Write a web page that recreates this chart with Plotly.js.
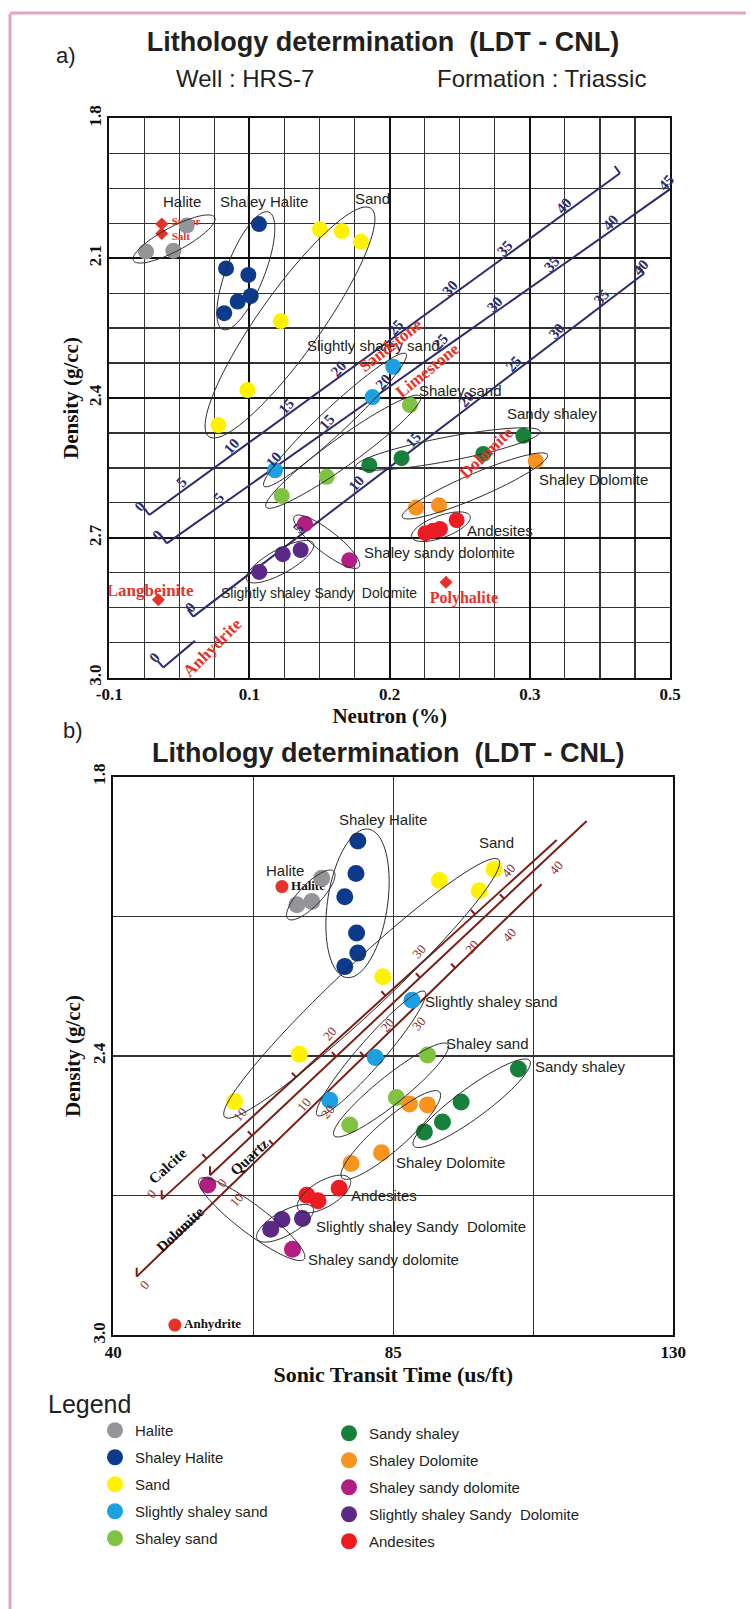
<!DOCTYPE html>
<html><head><meta charset="utf-8">
<script src="https://cdn.plot.ly/plotly-3.0.1.min.js"></script>
<style>html,body{margin:0;padding:0;background:#fff;}#chart{width:751px;height:1609px;}</style>
</head><body><div id="chart"></div>
<script>
// ================= DATA =================
const categories = ['Halite','Shaley Halite','Sand','Slightly shaley sand','Shaley sand',
  'Sandy shaley','Shaley Dolomite','Shaley sandy dolomite','Slightly shaley Sandy\u00a0 Dolomite','Andesites'];

// Panel a : Neutron (x) vs bulk density
const neutronA = [
  [0.0262,0.0457,0.0552],
  [0.1068,0.0833,0.0992,0.1009,0.0916,0.0820],
  [0.1503,0.1658,0.1796,0.1223,0.0985,0.0778],
  [0.2026,0.1878,0.1182],
  [0.2145,0.1551,0.1230],
  [0.1855,0.2085,0.2668,0.2954],
  [0.3042,0.2188,0.2352],
  [0.1396,0.1712],
  [0.1070,0.1237,0.1365],
  [0.2256,0.2309,0.2359,0.2478]
];
const densityA = [
  [2.086,2.084,2.030],
  [2.027,2.122,2.136,2.181,2.193,2.218],
  [2.038,2.042,2.065,2.235,2.383,2.458],
  [2.333,2.398,2.555],
  [2.415,2.569,2.610],
  [2.544,2.529,2.520,2.481],
  [2.535,2.635,2.630],
  [2.670,2.748],
  [2.773,2.735,2.726],
  [2.690,2.685,2.681,2.662]
];
// Panel b : Sonic transit time (x) vs bulk density
const sonicB = [
  [69.5,71.9,73.5],
  [79.3,79.0,77.2,79.1,79.3,77.2],
  [92.4,98.8,101.2,83.3,69.9,59.5],
  [88.0,82.1,74.8],
  [90.5,85.5,78.0],
  [105.1,95.9,92.9,90.0],
  [87.6,90.5,83.1,78.2],
  [55.2,68.8],
  [65.3,67.1,70.4],
  [71.1,72.9,76.3]
];
const densityB = [
  [2.075,2.068,2.018],
  [1.938,2.008,2.058,2.136,2.179,2.208],
  [2.023,2.045,1.999,2.230,2.396,2.498],
  [2.280,2.403,2.495],
  [2.398,2.489,2.548],
  [2.428,2.499,2.542,2.563],
  [2.503,2.505,2.608,2.631],
  [2.677,2.815],
  [2.772,2.751,2.749],
  [2.699,2.711,2.684]
];
// Reference minerals
const mineralsA = ['Sulfer','Salt','Langbeinite','Polyhalite'];
const mineralNeutronA = [0.0374,0.0374,0.0350,0.2402];
const mineralDensityA = [2.027,2.047,2.833,2.795];
const mineralsB = ['Halite','Anhydrite'];
const mineralSonicB = [67.1,49.9];
const mineralDensityB = [2.036,2.978];

// Lithology porosity lines, panel a (neutron, density at porosity phi)
const sandstonePhi = [0,5,10,15,20,25,30,35,40,45];
const sandstoneN = [0.0285,0.0546,0.0902,0.1295,0.1662,0.2067,0.2459,0.2851,0.3267,0.3643];
const sandstoneD = [2.651,2.594,2.516,2.431,2.350,2.262,2.176,2.091,2.000,1.918];
const limestonePhi = [0,5,10,15,20,25,30,35,40,45];
const limestoneN = [0.0410,0.0814,0.1199,0.1580,0.1983,0.2388,0.2780,0.3185,0.3601,0.4000];
const limestoneD = [2.712,2.626,2.545,2.464,2.379,2.293,2.211,2.125,2.037,1.952];
const dolomitePhiA = [0,5,10,15,20,25,30,35,40];
const dolomiteNA = [0.0599,0.1377,0.1794,0.2197,0.2578,0.2911,0.3220,0.3541,0.3815];
const dolomiteDA = [2.869,2.691,2.596,2.503,2.416,2.340,2.269,2.196,2.133];
const anhydritePhi = [0,2];
const anhydriteN = [0.0385,0.0611];
const anhydriteD = [2.978,2.921];

// Lithology porosity lines, panel b (sonic, density at porosity phi)
const calcitePhi = [0,10,20,30,40,44];
const calciteSonic = [47.78,62.16,76.55,90.93,105.31,111.26];
const calciteD = [2.708,2.533,2.358,2.183,2.008,1.936];
const quartzPhi = [0,10,20,30,40,45];
const quartzSonic = [55.54,69.04,82.54,96.04,109.54,116.08];
const quartzD = [2.656,2.486,2.316,2.147,1.977,1.895];
const quartzLabels = ['0','10','20','20','40'];
const dolomitePhiB = [0,10,20,30,40,44.5];
const dolomiteSonicB = [43.76,58.39,73.01,87.64,102.26,108.85];
const dolomiteDB = [2.874,2.685,2.495,2.306,2.116,2.031];

// Axis tick labels
const neutronTickVals = [0,0.1,0.2,0.3,0.4];
const neutronTickText = ['-0.1','0.1','0.2','0.3','0.5'];
const densityTicksA = [1.8,2.1,2.4,2.7,3.0];
const sonicTicks = [40,85,130];
const densityTicksB = [1.8,2.4,3.0];

// ================= STYLE / LAYOUT =================
const W = 751, H = 1609;
const colors = ['#939598','#0d3a8c','#fff200','#1ba1e2','#80c241','#17803a','#f7931e','#b21e83','#5b2a86','#ed1c24'];
const SANS = 'Liberation Sans, Arial, sans-serif';
const SERIF = 'Liberation Serif, Times New Roman, serif';
const TXT = '#231f20';
const NAVY = '#2d2a6e', BROWN = '#7b1f16', RED = '#e6332a';

const A = {x0:109.3, x1:670, y0:118.3, y1:677.7, xr:[0,0.4], yr:[3.0,1.8]};
const B = {x0:113.3, x1:673.3, y0:776.7, y1:1335.3, xr:[40,130], yr:[3.0,1.8]};
A.kx = (A.x1-A.x0)/(A.xr[1]-A.xr[0]); A.kd = (A.y1-A.y0)/(A.yr[0]-A.yr[1]);
B.kx = (B.x1-B.x0)/(B.xr[1]-B.xr[0]); B.kd = (B.y1-B.y0)/(B.yr[0]-B.yr[1]);

const px = v => v/W, py = v => 1 - v/H;

const traces = [];
const shapes = [];
const annotations = [];

function addLine(xs, ys, xa, ya, color){
  traces.push({type:'scatter', mode:'lines', x:xs, y:ys, xaxis:xa, yaxis:ya,
    line:{color:color, width:2}, showlegend:false, hoverinfo:'skip'});
}
// offset in screen pixels (right, down) -> data
function shift(P, x, d, dxp, dyp){ return [x + dxp/P.kx, d + dyp/P.kd]; }
function tick(P, xa, ya, x, d, dxp, dyp, color){
  const e = shift(P, x, d, dxp, dyp);
  shapes.push({type:'line', xref:xa, yref:ya, x0:x, y0:d, x1:e[0], y1:e[1], line:{color:color, width:2}});
}
function perp(P, xs, ds, len){
  const sx = (xs[xs.length-1]-xs[0])*P.kx, sy = (ds[ds.length-1]-ds[0])*P.kd;
  const L = Math.hypot(sx, sy);
  return [sy/L*len, -sx/L*len];
}
function numLabel(xa, ya, x, d, text, xs, ys, font, ang){
  annotations.push({xref:xa, yref:ya, x:x, y:d, text:text, showarrow:false, xshift:xs, yshift:ys,
    textangle:ang, font:font, xanchor:'center', yanchor:'middle'});
}
function ellipse(P, xa, ya, cx, cd, a, b, ang){
  const th = ang*Math.PI/180, pts = [];
  for(let i=0;i<=90;i++){
    const t = i/90*2*Math.PI, ux = a*Math.cos(t), uy = b*Math.sin(t);
    const sx = ux*Math.cos(th) - uy*Math.sin(th), su = ux*Math.sin(th) + uy*Math.cos(th);
    pts.push((cx + sx/P.kx).toFixed(5)+','+(cd - su/P.kd).toFixed(5));
  }
  shapes.push({type:'path', xref:xa, yref:ya, path:'M'+pts.join('L')+'Z', line:{color:'#2b2b2b', width:1}, layer:'above'});
}

// ---- panel a lithology lines ----
const numFontA = {family:SERIF, size:15, weight:'bold', color:NAVY};
[[sandstonePhi,sandstoneN,sandstoneD,9,[-9,-9],true],
 [limestonePhi,limestoneN,limestoneD,10,[-9,-8],false],
 [dolomitePhiA,dolomiteNA,dolomiteDA,9,[-3,-10],true],
 [anhydritePhi,anhydriteN,anhydriteD,1,[-8,-10],false]].forEach(([phi,xs,ds,nLab,z,endTick])=>{
  addLine(xs, ds, 'x', 'y', NAVY);
  const p = perp(A, xs, ds, 9);
  tick(A,'x','y', xs[0], ds[0], p[0], p[1], NAVY);
  if(endTick) tick(A,'x','y', xs[xs.length-1], ds[ds.length-1], p[0], p[1], NAVY);
  for(let i=0;i<nLab;i++){
    const o = i===0 ? z : [-4,-6];
    numLabel('x','y', xs[i], ds[i], String(phi[i]), o[0], -o[1], numFontA, -48);
  }
});

// ---- panel b lithology lines ----
const numFontB = {family:SERIF, size:13, color:'#8b2b1e'};
[[calcitePhi,calciteSonic,calciteD,null,[-11,-3],[-10,-6]],
 [quartzPhi,quartzSonic,quartzD,quartzLabels,[10,8],[12,7]],
 [dolomitePhiB,dolomiteSonicB,dolomiteDB,null,[9,11],[8,8]]].forEach(([phi,xs,ds,labs,o,z])=>{
  addLine(xs, ds, 'x2', 'y2', BROWN);
  tick(B,'x2','y2', xs[0], ds[0], 0, -9, BROWN);
  const p = perp(B, xs, ds, 6);
  for(let i=0;i<phi.length-1;i++){
    if(phi[i]%10===0 && phi[i]<=40){
      const off = i===0 ? z : o;
      numLabel('x2','y2', xs[i], ds[i], labs?labs[i]:String(phi[i]), off[0], -off[1], numFontB, -50);
    }
    // tick at mid porosity (5, 15, 25, 35)
    if(phi[i+1]-phi[i]===10){
      const mx = (xs[i]+xs[i+1])/2, md = (ds[i]+ds[i+1])/2;
      tick(B,'x2','y2', mx, md, p[0], p[1], BROWN);
    }
  }
});

// ---- mineral reference points ----
traces.push({type:'scatter', mode:'markers', x:mineralNeutronA, y:mineralDensityA, xaxis:'x', yaxis:'y',
  marker:{symbol:'diamond', size:10, color:RED}, showlegend:false, hoverinfo:'skip'});
// mineral names (text placed beside the symbols, under the sample points)
const mineralLabelPosA = {x:[0.0445,0.0445,0.0291,0.2530], y:[2.0225,2.0546,2.8160,2.8312]};
traces.push({type:'scatter', mode:'text', x:mineralLabelPosA.x, y:mineralLabelPosA.y, xaxis:'x', yaxis:'y',
  text:mineralsA, textposition:['middle right','middle right','middle center','middle center'],
  textfont:{family:SERIF, size:[11,11,17,16], weight:'bold', color:RED}, showlegend:false, hoverinfo:'skip'});
traces.push({type:'scatter', mode:'markers+text', x:mineralSonicB, y:mineralDensityB, xaxis:'x2', yaxis:'y2',
  text:mineralsB, textposition:'middle right',
  textfont:{family:SERIF, size:13, weight:'bold', color:'#111'},
  marker:{symbol:'circle', size:13, color:RED}, showlegend:false, hoverinfo:'skip'});

// ---- category points ----
categories.forEach((c,i)=>{
  const lg = i<5 ? 'legend' : 'legend2';
  traces.push({type:'scatter', mode:'markers', name:c, legendgroup:c, legend:lg, showlegend:true,
    x:neutronA[i], y:densityA[i], xaxis:'x', yaxis:'y', marker:{size:16, color:colors[i]}});
  traces.push({type:'scatter', mode:'markers', name:c, legendgroup:c, legend:lg, showlegend:false,
    x:sonicB[i], y:densityB[i], xaxis:'x2', yaxis:'y2', marker:{size:17, color:colors[i]}});
});

// ---- group outlines ----
// panel a
ellipse(A,'x','y',0.0462,2.0589,46,12,28);
ellipse(A,'x','y',0.0974,2.1271,63,19,68.6);
ellipse(A,'x','y',0.1289,2.2380,140,31,54.6);
ellipse(A,'x','y',0.1610,2.4472,97,13,43);
ellipse(A,'x','y',0.1669,2.5152,95,14,35.7);
ellipse(A,'x','y',0.2416,2.5094,94,12,10.8);
ellipse(A,'x','y',0.2608,2.5886,79,12,23.2);
ellipse(A,'x','y',0.2366,2.6761,31,11,20);
ellipse(A,'x','y',0.1551,2.7083,41,11,-38);
ellipse(A,'x','y',0.1218,2.7512,38,12,29);
// panel b
ellipse(B,'x2','y2',71.74,2.0541,33,11,46);
ellipse(B,'x2','y2',79.25,2.0720,75,30,81.6);
ellipse(B,'x2','y2',79.92,2.2546,188,24,43.2);
ellipse(B,'x2','y2',81.42,2.3946,82,13,49);
ellipse(B,'x2','y2',84.63,2.4730,73,14,38.8);
ellipse(B,'x2','y2',84.60,2.5697,65,15,41.3);
ellipse(B,'x2','y2',97.60,2.5016,72,15,36.3);
ellipse(B,'x2','y2',73.86,2.6965,30,13,30.4);
ellipse(B,'x2','y2',67.60,2.7594,32,12,29.3);
ellipse(B,'x2','y2',62.24,2.7506,66,14,-37.2);

// ---- group labels ----
const lblA = {family:SANS, size:15, color:TXT};
const lblA2 = {family:SANS, size:14, color:TXT};
const lblB = {family:SANS, size:15, color:TXT};
function lab(xa,ya,x,d,t,f){annotations.push({xref:xa,yref:ya,x:x,y:d,text:t,showarrow:false,font:f,xanchor:'center',yanchor:'middle'});}
lab('x','y',0.0517,1.9789,'Halite',lblA);
lab('x','y',0.1104,1.9789,'Shaley Halite',lblA);
lab('x','y',0.1880,1.9716,'Sand',lblA);
lab('x','y',0.1888,2.2863,'Slightly shaley sand',lblA);
lab('x','y',0.2502,2.3829,'Shaley sand',lblA);
lab('x','y',0.3165,2.4322,'Sandy shaley',lblA);
lab('x','y',0.3451,2.5738,'Shaley Dolomite',lblA);
lab('x','y',0.2784,2.6832,'Andesites',lblA);
lab('x','y',0.2359,2.7304,'Shaley sandy dolomite',lblA);
lab('x','y',0.1495,2.8183,'Slightly shaley Sandy\u00a0 Dolomite',lblA2);
lab('x2','y2',67.60,2.0019,'Halite',lblB);
lab('x2','y2',83.39,1.8930,'Shaley Halite',lblB);
lab('x2','y2',101.62,1.9418,'Sand',lblB);
lab('x2','y2',100.81,2.2834,'Slightly shaley sand',lblB);
lab('x2','y2',100.14,2.3742,'Shaley sand',lblB);
lab('x2','y2',115.04,2.4215,'Sandy shaley',lblB);
lab('x2','y2',94.19,2.6292,'Shaley Dolomite',lblB);
lab('x2','y2',83.54,2.6986,'Andesites',lblB);
lab('x2','y2',89.42,2.7667,'Slightly shaley Sandy\u00a0 Dolomite',lblB);
lab('x2','y2',83.47,2.8382,'Shaley sandy dolomite',lblB);

// lithology names
function rot(xa,ya,x,d,t,ang,f){annotations.push({xref:xa,yref:ya,x:x,y:d,text:t,showarrow:false,textangle:ang,font:f,xanchor:'center',yanchor:'middle'});}
const redF = {family:SERIF, size:17, weight:'bold', color:RED};
rot('x','y',0.2006,2.2863,'Sandstone',-38,redF);
rot('x','y',0.2270,2.3417,'Limestone',-39,redF);
rot('x','y',0.2692,2.5169,'Dolomite',-44,redF);
rot('x','y',0.0736,2.9352,'Anhydrite',-45,redF);
const blkF = {family:SERIF, size:15, weight:'bold', color:'#111'};
rot('x2','y2',48.71,2.6356,'Calcite',-42,blkF);
rot('x2','y2',61.84,2.6161,'Quartz',-43,blkF);
rot('x2','y2',50.85,2.7721,'Dolomite',-43,blkF);

// page texts
function ptxt(x,y,t,f,anchor){annotations.push({xref:'paper',yref:'paper',x:px(x),y:py(y),text:t,showarrow:false,font:f,xanchor:anchor||'center',yanchor:'middle'});}
ptxt(66,55,'a)',{family:SANS,size:22,color:TXT});
ptxt(245,79,'Well : HRS-7',{family:SANS,size:24,color:TXT});
ptxt(541,79,'Formation : Triassic',{family:SANS,size:24,color:TXT});
ptxt(73,731,'b)',{family:SANS,size:22,color:TXT});
ptxt(388,753,'Lithology determination \u00a0(LDT - CNL)',{family:SANS,size:27,weight:'bold',color:TXT});
ptxt(46,1404,'Legend',{family:SANS,size:25,color:TXT},'left');

// page frame
shapes.push({type:'line',xref:'paper',yref:'paper',x0:px(10),x1:px(10),y0:py(14),y1:py(1609),line:{color:'#e7a3c2',width:3}});
shapes.push({type:'line',xref:'paper',yref:'paper',x0:px(10),x1:px(746),y0:py(13),y1:py(13),line:{color:'#e7a3c2',width:3}});

const tickFont = {family:SERIF, size:17, weight:'bold', color:'#111'};
const layout = {
  width:W, height:H, margin:{l:0,r:0,t:0,b:0}, paper_bgcolor:'#fff', plot_bgcolor:'#fff',
  showlegend:true, hovermode:false,
  title:{text:'Lithology determination \u00a0(LDT - CNL)', font:{family:SANS,size:27,weight:'bold',color:TXT},
    x:px(383), xanchor:'center', y:py(42), yanchor:'middle'},
  xaxis:{domain:[px(A.x0),px(A.x1)], range:A.xr, anchor:'y', tickmode:'array', tickvals:neutronTickVals, ticktext:neutronTickText,
    showgrid:true, gridcolor:'#111', gridwidth:2, zeroline:false, showline:true, linecolor:'#111', linewidth:2, mirror:true,
    minor:{tickmode:'linear', tick0:0, dtick:0.025, showgrid:true, gridcolor:'#333', gridwidth:1.2},
    tickfont:tickFont, ticks:'', title:{text:'Neutron (%)', font:{family:SERIF,size:21,weight:'bold',color:'#111'}, standoff:4}},
  yaxis:{domain:[py(A.y1),py(A.y0)], range:A.yr, anchor:'x', tickmode:'array', tickvals:densityTicksA, ticktext:densityTicksA.map(v=>v.toFixed(1)),
    tickangle:-90, showgrid:true, gridcolor:'#111', gridwidth:2, zeroline:false, showline:true, linecolor:'#111', linewidth:2, mirror:true,
    minor:{tickmode:'linear', tick0:1.8, dtick:0.075, showgrid:true, gridcolor:'#333', gridwidth:1.2},
    tickfont:tickFont, ticks:'', title:{text:'Density (g/cc)', font:{family:SERIF,size:21,weight:'bold',color:'#111'}, standoff:1}},
  xaxis2:{domain:[px(B.x0),px(B.x1)], range:B.xr, anchor:'y2', tickmode:'array', tickvals:sonicTicks, ticktext:sonicTicks.map(String),
    showgrid:true, gridcolor:'#333', gridwidth:1.3, zeroline:false, showline:true, linecolor:'#111', linewidth:2, mirror:true,
    minor:{tickmode:'linear', tick0:40, dtick:22.5, showgrid:true, gridcolor:'#333', gridwidth:1.3},
    tickfont:tickFont, ticks:'', title:{text:'Sonic Transit Time (us/ft)', font:{family:SERIF,size:22,weight:'bold',color:'#111'}, standoff:6}},
  yaxis2:{domain:[py(B.y1),py(B.y0)], range:B.yr, anchor:'x2', tickmode:'array', tickvals:densityTicksB, ticktext:densityTicksB.map(v=>v.toFixed(1)),
    tickangle:-90, showgrid:true, gridcolor:'#333', gridwidth:1.3, zeroline:false, showline:true, linecolor:'#111', linewidth:2, mirror:true,
    minor:{tickmode:'linear', tick0:1.8, dtick:0.3, showgrid:true, gridcolor:'#333', gridwidth:1.3},
    tickfont:tickFont, ticks:'', title:{text:'Density (g/cc)', font:{family:SERIF,size:21,weight:'bold',color:'#111'}, standoff:3}},
  legend:{x:px(95), y:py(1414), xanchor:'left', yanchor:'top', bgcolor:'rgba(0,0,0,0)', traceorder:'grouped',
    tracegroupgap:4.5, itemsizing:'trace', font:{family:SANS,size:15,color:TXT}},
  legend2:{x:px(329), y:py(1417), xanchor:'left', yanchor:'top', bgcolor:'rgba(0,0,0,0)', traceorder:'grouped',
    tracegroupgap:4.5, itemsizing:'trace', font:{family:SANS,size:15,color:TXT}},
  shapes:shapes, annotations:annotations
};
Plotly.newPlot('chart', traces, layout, {displayModeBar:false, staticPlot:true});
</script></body></html>
